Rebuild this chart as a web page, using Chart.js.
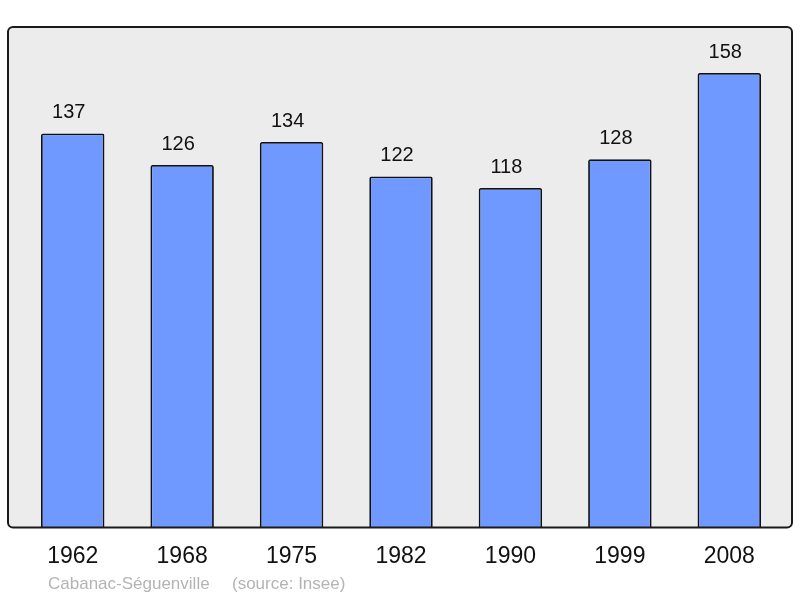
<!DOCTYPE html>
<html>
<head>
<meta charset="utf-8">
<script src="https://cdn.jsdelivr.net/npm/chart.js@4/dist/chart.umd.min.js"></script>
<style>
  html, body { margin: 0; padding: 0; background: #fff; }
  #chart { display: block; }
</style>
</head>
<body>
<canvas id="chart" width="800" height="598"></canvas>
<script>
// data
const years = ['1962', '1968', '1975', '1982', '1990', '1999', '2008'];
const population = [137, 126, 134, 122, 118, 128, 158];
const commune = 'Cabanac-Séguenville';
const source = '(source: Insee)';

const FONT = '"Liberation Sans", Arial, sans-serif';

// grey rounded frame behind the bars
const framePlugin = {
  id: 'frame',
  beforeDraw(chart) {
    const { ctx, chartArea: a } = chart;
    const x = a.left - 10, y = a.top, w = a.right - a.left + 18, h = a.bottom - a.top;
    ctx.save();
    ctx.beginPath();
    ctx.roundRect(x, y, w, h, 5);
    ctx.fillStyle = '#ececec';
    ctx.fill();
    ctx.restore();
  },
  afterDatasetsDraw(chart) {
    const { ctx, chartArea: a } = chart;
    const x = a.left - 10, y = a.top, w = a.right - a.left + 18, h = a.bottom - a.top;
    ctx.save();
    ctx.beginPath();
    ctx.roundRect(x, y, w, h, 5);
    ctx.lineWidth = 2;
    ctx.strokeStyle = '#1a1a1a';
    ctx.stroke();
    ctx.restore();
  }
};

// numbers above bars + footer caption
const labelPlugin = {
  id: 'labels',
  afterDraw(chart) {
    const { ctx } = chart;
    const meta = chart.getDatasetMeta(0);
    ctx.save();
    ctx.font = '20px ' + FONT;
    ctx.fillStyle = '#111';
    ctx.textAlign = 'center';
    ctx.textBaseline = 'middle';
    meta.data.forEach((bar, i) => {
      ctx.fillText(String(population[i]), bar.x - 4, bar.y - 21);
    });
    ctx.font = '17px ' + FONT;
    ctx.fillStyle = '#b4b4b4';
    ctx.textAlign = 'left';
    ctx.fillText(commune, 48, 584);
    ctx.fillText(source, 232, 584);
    ctx.restore();
  }
};

new Chart(document.getElementById('chart'), {
  type: 'bar',
  data: {
    labels: years,
    datasets: [{
      data: population,
      backgroundColor: '#7099ff',
      borderColor: '#111',
      borderWidth: 1.8,
      borderSkipped: 'bottom',
      borderRadius: 2,
      categoryPercentage: 1,
      barPercentage: 0.58
    }]
  },
  options: {
    responsive: false,
    animation: false,
    layout: { padding: { left: 18, right: 16, top: 27, bottom: 13 } },
    plugins: { legend: { display: false }, tooltip: { enabled: false } },
    scales: {
      y: { display: false, min: 0, max: 174 },
      x: {
        grid: { display: false, drawTicks: false },
        border: { display: false },
        ticks: { color: '#111', font: { family: FONT, size: 23 }, padding: 15, maxRotation: 0 }
      }
    }
  },
  plugins: [framePlugin, labelPlugin]
});
</script>
</body>
</html>
